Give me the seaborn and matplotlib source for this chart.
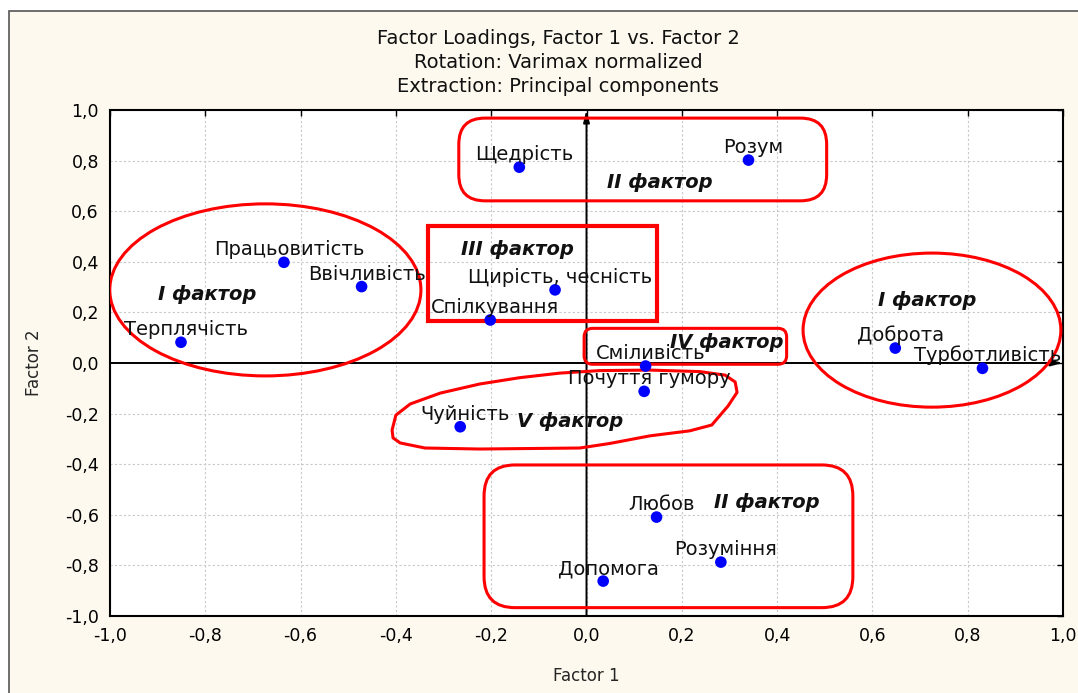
import matplotlib
matplotlib.use("Agg")
import matplotlib.pyplot as plt
import seaborn as sns
import pandas as pd
from matplotlib.patches import Ellipse, Rectangle, FancyBboxPatch, Polygon

# Data: factor loadings
traits = ["Щедрість", "Розум", "Працьовитість", "Ввічливість", "Щирість, чесність",
          "Спілкування", "Терплячість", "Доброта", "Турботливість", "Сміливість",
          "Почуття гумору", "Чуйність", "Любов", "Розуміння", "Допомога"]
factor1 = [-0.141, 0.340, -0.635, -0.472, -0.066, -0.202, -0.851, 0.648, 0.831,
           0.124, 0.121, -0.265, 0.147, 0.282, 0.035]
factor2 = [0.774, 0.802, 0.398, 0.302, 0.289, 0.170, 0.082, 0.059, -0.021,
           -0.012, -0.112, -0.252, -0.609, -0.787, -0.862]

ticks = [-1.0, -0.8, -0.6, -0.4, -0.2, 0.0, 0.2, 0.4, 0.6, 0.8, 1.0]
tick_labels = ["-1,0", "-0,8", "-0,6", "-0,4", "-0,2", "0,0", "0,2", "0,4", "0,6", "0,8", "1,0"]

title_lines = ["Factor Loadings, Factor 1 vs. Factor 2",
               "Rotation: Varimax normalized",
               "Extraction: Principal components"]

df = pd.DataFrame({"trait": traits, "Factor 1": factor1, "Factor 2": factor2})

sns.set_style("white")
plt.rcParams["font.family"] = ["DejaVu Sans"]

fig = plt.figure(figsize=(10.78, 6.93), dpi=100, facecolor="white")

# cream panel with thin frame (top-left border like the original)
cream = "#fdf9ee"
fig.patches.append(Rectangle((9 / 1078, -0.01), 1.01, 1 - 11 / 693 + 0.01,
                             transform=fig.transFigure, facecolor=cream,
                             edgecolor="#555555", linewidth=1.2, zorder=-10))

ax = fig.add_axes([110 / 1078, 1 - 616 / 693, 953 / 1078, 506 / 693])
ax.set_facecolor("white")

sns.scatterplot(data=df, x="Factor 1", y="Factor 2", ax=ax, color="#0000ff",
                s=70, edgecolor="none", zorder=5, legend=False)

for name, x, y in zip(traits, factor1, factor2):
    ax.annotate(name, (x, y), xytext=(5, 7), textcoords="offset pixels",
                ha="center", va="baseline", fontsize=14,
                color="#111111", zorder=6)

ax.set_xlim(-1, 1)
ax.set_ylim(-1, 1)
ax.set_xticks(ticks)
ax.set_xticklabels(tick_labels)
ax.set_yticks(ticks)
ax.set_yticklabels(tick_labels)
ax.tick_params(direction="in", length=4, width=1, top=True, right=True,
               labelsize=12.5, pad=8, colors="black")
ax.grid(True, linestyle=(0, (2, 2)), color="#c8c8c8", linewidth=0.8)
for sp in ax.spines.values():
    sp.set_linewidth(1.5)
    sp.set_color("black")

ax.set_xlabel("Factor 1", fontsize=12, labelpad=16)
ax.set_ylabel("Factor 2", fontsize=12, labelpad=16)

# zero axes with arrows
arrow = dict(arrowstyle="-|>,head_length=0.7,head_width=0.18", color="black", lw=1.4,
             shrinkA=0, shrinkB=0)
ax.annotate("", xy=(0, 1.0), xytext=(0, -1.0), arrowprops=arrow, zorder=3)
ax.annotate("", xy=(1.0, 0), xytext=(-1.0, 0), arrowprops=arrow, zorder=3)

# red factor outlines
red = "#ff0000"
asp = (953 / 2) / (506 / 2)
ax.add_patch(Ellipse((-0.674, 0.289), 0.653, 0.68, fill=False, ec=red, lw=2.2, zorder=4))
ax.add_patch(Ellipse((0.725, 0.130), 0.541, 0.609, fill=False, ec=red, lw=2.2, zorder=4))
ax.add_patch(FancyBboxPatch((-0.268, 0.641), 0.772, 0.327,
                            boxstyle="round,pad=0,rounding_size=0.055",
                            mutation_aspect=asp, fill=False, ec=red, lw=2.2, zorder=4))
ax.add_patch(FancyBboxPatch((-0.215, -0.967), 0.774, 0.564,
                            boxstyle="round,pad=0,rounding_size=0.065",
                            mutation_aspect=asp, fill=False, ec=red, lw=2.2, zorder=4))
ax.add_patch(FancyBboxPatch((-0.005, -0.005), 0.425, 0.142,
                            boxstyle="round,pad=0,rounding_size=0.018",
                            mutation_aspect=asp, fill=False, ec=red, lw=2.2, zorder=4))
ax.add_patch(Rectangle((-0.332, 0.167), 0.479, 0.376, fill=False, ec=red, lw=3.0, zorder=4))
blob = [(-0.408, -0.265), (-0.400, -0.206), (-0.370, -0.162), (-0.307, -0.119),
        (-0.224, -0.083), (-0.140, -0.058), (-0.056, -0.040), (0.028, -0.030),
        (0.133, -0.028), (0.238, -0.034), (0.291, -0.048), (0.312, -0.075),
        (0.316, -0.116), (0.297, -0.170), (0.263, -0.245), (0.217, -0.268),
        (0.133, -0.288), (0.049, -0.318), (-0.014, -0.336), (-0.224, -0.340),
        (-0.339, -0.336), (-0.391, -0.316), (-0.406, -0.296)]
ax.add_patch(Polygon(blob, closed=True, fill=False, ec=red, lw=2.2, joinstyle="round", zorder=4))

# factor names
factor_names = [("II фактор", 0.154, 0.715), ("III фактор", -0.144, 0.447),
                ("I фактор", -0.796, 0.269), ("IV фактор", 0.295, 0.083),
                ("I фактор", 0.715, 0.249), ("V фактор", -0.035, -0.233),
                ("II фактор", 0.379, -0.553)]
for txt, x, y in factor_names:
    ax.text(x, y, txt, ha="center", va="center", fontsize=14, fontweight="bold",
            fontstyle="italic", color="#111111", zorder=6)

for i, line in enumerate(title_lines):
    fig.text(558 / 1078, 1 - (38 + 24.5 * i) / 693, line, ha="center", va="center",
             fontsize=14, color="#111111")

fig.savefig("out.png", dpi=100, facecolor=fig.get_facecolor())
